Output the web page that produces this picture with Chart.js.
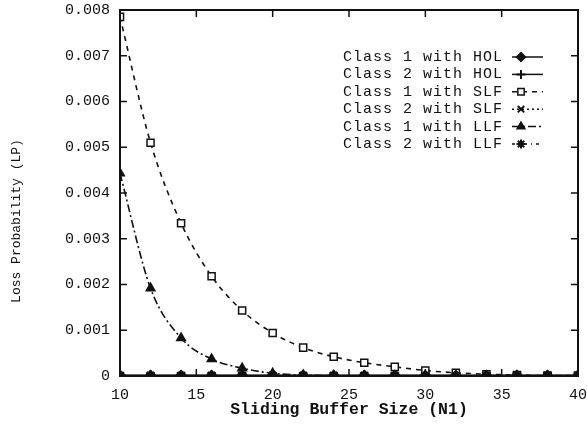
<!DOCTYPE html>
<html>
<head>
<meta charset="utf-8">
<script src="https://cdn.jsdelivr.net/npm/chart.js@4.4.0/dist/chart.umd.min.js"></script>
<style>
  html, body { margin: 0; padding: 0; background: #fff; }
  #wrap { width: 587px; height: 427px; }
</style>
</head>
<body>
<div id="wrap"><canvas id="lossChart" width="587" height="427"></canvas></div>
<script>
const bufferSizes = [10, 12, 14, 16, 18, 20, 22, 24, 26, 28, 30, 32, 34, 36, 38, 40];

const class1Hol = [0, 0, 0, 0, 0, 0, 0, 0, 0, 0, 0, 0, 0, 0, 0, 0];
const class2Hol = [0, 0, 0, 0, 0, 0, 0, 0, 0, 0, 0, 0, 0, 0, 0, 0];
const class1Slf = [0.00785, 0.0051, 0.00334, 0.00218, 0.00143, 0.00094, 0.00062, 0.00042,
                   0.00029, 0.0002, 0.00012, 0.00007, 0.00004, 0.00002, 0.00001, 0.00001];
const class2Slf = [0, 0, 0, 0, 0, 0, 0, 0, 0, 0, 0, 0, 0, 0, 0, 0];
const class1Llf = [0.00443, 0.00192, 0.00083, 0.00037, 0.00017, 0.00006, 0.00002, 0.00001,
                   0, 0, 0, 0, 0, 0, 0, 0];
const class2Llf = [0, 0, 0, 0, 0, 0, 0, 0, 0, 0, 0, 0, 0, 0, 0, 0];

const seriesNames = ["Class 1 with HOL", "Class 2 with HOL", "Class 1 with SLF",
                     "Class 2 with SLF", "Class 1 with LLF", "Class 2 with LLF"];

const xTicks = [10, 15, 20, 25, 30, 35, 40];
const yTicks = [0, 0.001, 0.002, 0.003, 0.004, 0.005, 0.006, 0.007, 0.008];

const INK = "#111";
const MONO = "'Liberation Mono', 'DejaVu Sans Mono', monospace";

function toPoints(values) {
  return values.map((v, i) => ({ x: bufferSizes[i], y: v }));
}

function series(label, values, style) {
  return Object.assign({
    label: label,
    data: toPoints(values),
    borderColor: INK,
    backgroundColor: INK,
    pointBorderColor: INK,
    pointBackgroundColor: INK,
    borderWidth: 1.6,
    pointBorderWidth: 1.5,
    pointRadius: 4,
    cubicInterpolationMode: "monotone",
    fill: false
  }, style);
}

const datasets = [
  series(seriesNames[0], class1Hol, { pointStyle: "rectRot", borderWidth: 3, pointRadius: 5.5 }),
  series(seriesNames[1], class2Hol, { pointStyle: "cross", borderWidth: 2.5, pointRadius: 5, pointBorderWidth: 2 }),
  series(seriesNames[2], class1Slf, { pointStyle: "rect", borderDash: [5, 5], pointRadius: 5,
                                       pointBackgroundColor: "#fff" }),
  series(seriesNames[3], class2Slf, { pointStyle: "crossRot", borderDash: [2, 3], pointRadius: 5, pointBorderWidth: 2.5 }),
  series(seriesNames[4], class1Llf, { pointStyle: "triangle", borderDash: [8, 3, 2, 3], pointRadius: 5 }),
  series(seriesNames[5], class2Llf, { pointStyle: "star", borderDash: [3, 4, 1, 4], pointRadius: 5.5, pointBorderWidth: 2.5 })
];

// frame, inward ticks, y title and legend drawn on the canvas
const framePlugin = {
  id: "frame",
  afterDraw(chart) {
    const { ctx, chartArea: a, scales } = chart;
    ctx.save();
    ctx.strokeStyle = INK;
    ctx.lineWidth = 2;
    ctx.strokeRect(a.left, a.top, a.right - a.left, a.bottom - a.top);

    ctx.lineWidth = 1.5;
    const len = 7;
    ctx.beginPath();
    xTicks.slice(1, -1).forEach((t) => {
      const px = scales.x.getPixelForValue(t);
      ctx.moveTo(px, a.bottom); ctx.lineTo(px, a.bottom - len);
      ctx.moveTo(px, a.top); ctx.lineTo(px, a.top + len);
    });
    yTicks.slice(1, -1).forEach((t) => {
      const py = scales.y.getPixelForValue(t);
      ctx.moveTo(a.left, py); ctx.lineTo(a.left + len, py);
      ctx.moveTo(a.right, py); ctx.lineTo(a.right - len, py);
    });
    ctx.stroke();

    // y axis title
    ctx.fillStyle = INK;
    ctx.font = "13px " + MONO;
    ctx.textAlign = "center";
    ctx.textBaseline = "middle";
    ctx.translate(17, 221);
    ctx.rotate(-Math.PI / 2);
    ctx.fillText("Loss Probability (LP)", 0, 0);
    ctx.restore();

    // legend
    ctx.save();
    ctx.font = "15px " + MONO;
    ctx.letterSpacing = "1px";
    ctx.textAlign = "right";
    ctx.textBaseline = "middle";
    chart.data.datasets.forEach((ds, i) => {
      const y = 57 + i * 17.4;
      ctx.fillStyle = INK;
      ctx.fillText(ds.label, 503, y);
      ctx.strokeStyle = INK;
      ctx.lineWidth = 1.5;
      ctx.setLineDash(ds.borderDash || []);
      ctx.beginPath();
      ctx.moveTo(512, y);
      ctx.lineTo(543, y);
      ctx.stroke();
      ctx.setLineDash([]);
      ctx.fillStyle = ds.pointBackgroundColor;
      ctx.lineWidth = Math.min(ds.pointBorderWidth, 2);
      Chart.helpers.drawPoint(ctx, {
        pointStyle: ds.pointStyle,
        radius: 4.5,
        rotation: 0,
        borderWidth: Math.min(ds.pointBorderWidth, 2)
      }, 521, y);
    });
    ctx.restore();
  }
};

new Chart(document.getElementById("lossChart"), {
  type: "line",
  data: { datasets: datasets },
  options: {
    responsive: false,
    animation: false,
    devicePixelRatio: 1,
    layout: { padding: { top: 10, right: 9, left: 0, bottom: 0 } },
    plugins: {
      legend: { display: false },
      tooltip: { enabled: false }
    },
    scales: {
      x: {
        type: "linear",
        min: 10,
        max: 40,
        grid: { display: false, drawTicks: false },
        border: { display: false },
        afterBuildTicks: (scale) => { scale.ticks = xTicks.map((v) => ({ value: v })); },
        afterFit: (scale) => {
          scale.height = 51;
          scale.paddingLeft = 0;
          scale.paddingRight = 0;
        },
        ticks: {
          color: INK,
          padding: 10,
          maxRotation: 0,
          font: { family: MONO, size: 15 }
        },
        title: {
          display: true,
          text: "Sliding Buffer Size (N1)",
          color: INK,
          padding: { top: 0, bottom: 7 },
          font: { family: MONO, size: 16.5, weight: "bold" }
        }
      },
      y: {
        min: 0,
        max: 0.008,
        grid: { display: false, drawTicks: false },
        border: { display: false },
        afterBuildTicks: (scale) => { scale.ticks = yTicks.map((v) => ({ value: v })); },
        afterFit: (scale) => {
          scale.width = 120;
          scale.paddingTop = 0;
          scale.paddingBottom = 0;
        },
        ticks: {
          color: INK,
          padding: 10,
          font: { family: MONO, size: 15 },
          callback: (value) => (value === 0 ? "0" : value.toFixed(3))
        }
      }
    }
  },
  plugins: [framePlugin]
});
</script>
</body>
</html>
